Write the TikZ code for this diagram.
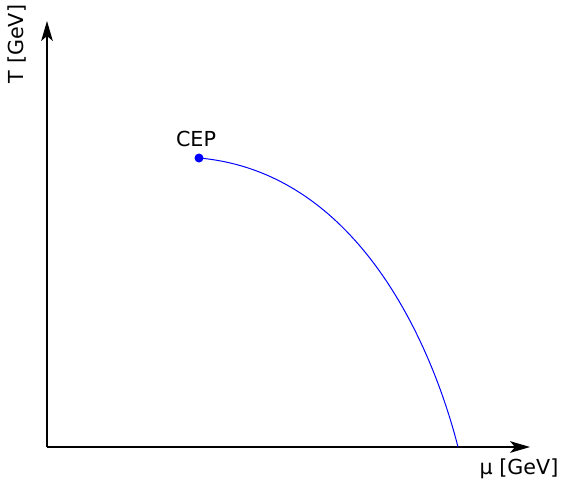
\documentclass[tikz,border=0pt]{standalone}
\usepackage{fontspec}
\setmainfont{DejaVu Sans}
\usetikzlibrary{arrows.meta}
\begin{document}
\begin{tikzpicture}[x=0.6pt,y=-0.6pt,font=\fontsize{12.4}{15}\selectfont]
\useasboundingbox (0,0) rectangle (562,483);
\coordinate (origin) at (47,447);
\coordinate (ytip) at (47,21);
\coordinate (xtip) at (530,447);
\coordinate (endpt) at (458,447);
\node[circle, fill=blue, inner sep=0pt, minimum size=5.4pt] (cep) at (199,158) {};
\node (cepl) at (196,139) {CEP};
\node[rotate=90] (tlabel) at (17,44) {T [GeV]};
\node (mulabel) at (519,469) {μ [GeV]};

\draw[line width=0.8pt, -{Stealth[length=12pt, width=7pt, inset=3pt]}] (origin) -- (ytip);
\draw[line width=0.8pt, -{Stealth[length=12pt, width=7pt, inset=3pt]}] (origin) -- (xtip);
\draw[blue, line width=0.6pt] (cep.center) .. controls (358,172) and (432,345) .. (endpt);
\end{tikzpicture}
\end{document}
